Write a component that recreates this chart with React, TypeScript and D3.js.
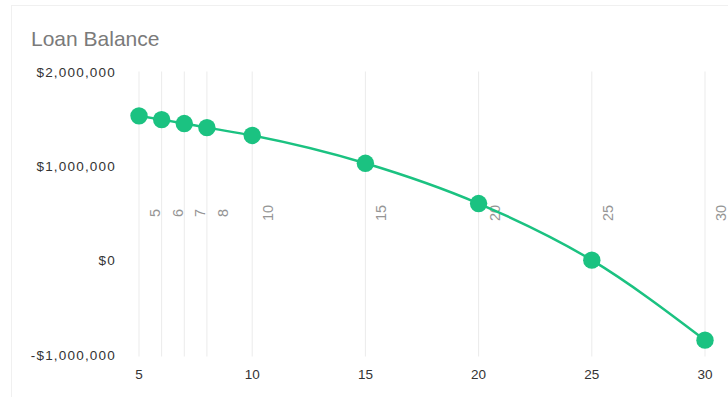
import React from "react";
import * as d3 from "d3";

const years = [5, 6, 7, 8, 10, 15, 20, 25, 30];
const balances = [1530000, 1490000, 1448000, 1405000, 1322000, 1027000, 600000, 0, -848000];
const yTicks = [2000000, 1000000, 0, -1000000];
const xTicks = [5, 10, 15, 20, 25, 30];
const title = "Loan Balance";

const W = 728;
const H = 397;
const GREEN = "#1bc281";

export default function App() {
  const x = d3.scaleLinear().domain([5, 30]).range([139, 705]);
  const y = d3.scaleLinear().domain([-1000000, 2000000]).range([354.5, 71.5]);
  const data = years.map((yr, i) => ({ yr, v: balances[i] }));
  const line = d3
    .line<{ yr: number; v: number }>()
    .x((d) => x(d.yr))
    .y((d) => y(d.v))
    .curve(d3.curveMonotoneX);
  const fmt = (v: number) => (v < 0 ? "-$" : "$") + d3.format(",")(Math.abs(v));
  const gridTop = y(2000000);
  const gridBottom = y(-1000000) + 2;
  const labelY = 213;

  return (
    <svg
      width={W}
      height={H}
      style={{ position: "absolute", left: 0, top: 0, background: "#fff" }}
      fontFamily="'Liberation Sans', Arial, Helvetica, sans-serif"
    >
      <rect x={11.5} y={5.5} width={W + 10} height={H + 10} fill="#fff" stroke="#f0f0f0" strokeWidth={1} />
      <text x={31} y={46} fontSize={21} fill="#7a7a7a">
        {title}
      </text>
      {years.map((yr) => (
        <line
          key={"g" + yr}
          x1={x(yr)}
          x2={x(yr)}
          y1={gridTop}
          y2={gridBottom}
          stroke="#ebebeb"
          strokeWidth={1}
        />
      ))}
      {years.map((yr) => (
        <text
          key={"r" + yr}
          transform={`translate(${x(yr) + 21},${labelY}) rotate(-90)`}
          textAnchor="middle"
          fontSize={14.5}
          fill="#959595"
        >
          {yr}
        </text>
      ))}
      {yTicks.map((t) => (
        <text
          key={"y" + t}
          x={116}
          y={y(t) + 5}
          textAnchor="end"
          fontSize={13.5}
          letterSpacing={1.2}
          fill="#333"
        >
          {fmt(t)}
        </text>
      ))}
      {xTicks.map((t) => (
        <text key={"x" + t} x={x(t)} y={378.5} textAnchor="middle" fontSize={13.5} fill="#333">
          {t}
        </text>
      ))}
      <path d={line(data) || ""} fill="none" stroke={GREEN} strokeWidth={2.5} />
      {data.map((d) => (
        <circle key={"c" + d.yr} cx={x(d.yr)} cy={y(d.v)} r={8.7} fill={GREEN} />
      ))}
    </svg>
  );
}
